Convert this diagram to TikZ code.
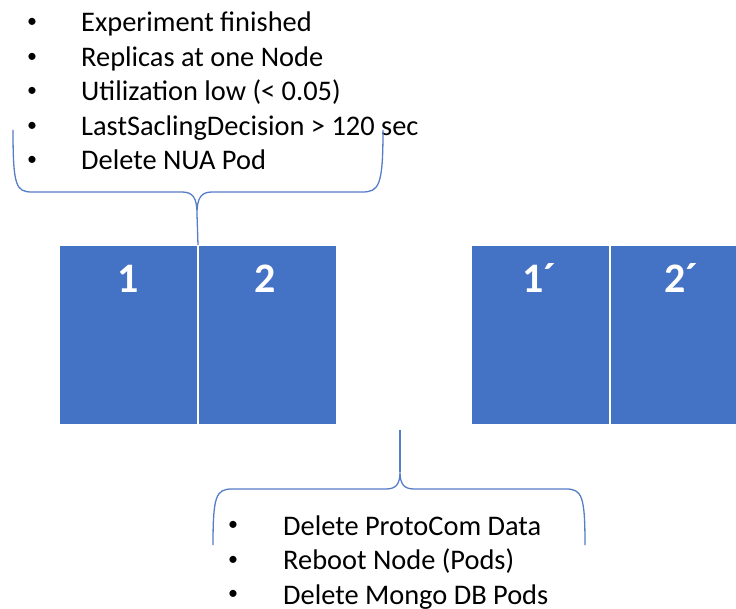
\documentclass[tikz,border=0pt]{standalone}
\usepackage{fontspec}
\setmainfont{Carlito}
\definecolor{boxblue}{RGB}{68,114,196}
\definecolor{braceblue}{RGB}{86,125,200}
\tikzset{
  nodebox/.style={rectangle, fill=boxblue, draw=white, line width=1pt,
    minimum width=138pt, minimum height=179pt, inner sep=0pt, anchor=north west},
  boxlabel/.style={text=white, font=\fontsize{42}{42}\selectfont\bfseries, anchor=base, inner sep=0pt},
  item/.style={font=\fontsize{28.4}{32}\selectfont, anchor=base west, inner sep=0pt},
  dot/.style={font=\fontsize{20}{24}\selectfont, anchor=center, inner sep=0pt},
  brace/.style={draw=braceblue, line width=1.3pt, line join=round}
}
\begin{document}
\begin{tikzpicture}[x=1pt,y=-1pt]
\useasboundingbox (0,0) rectangle (736,609);
\clip (0,0) rectangle (736,609);

% replica boxes
\node[nodebox] (b1) at (59,245) {};
\node[nodebox] (b2) at (198,245) {};
\node[nodebox] (c1) at (471,245) {};
\node[nodebox] (c2) at (610,245) {};
\node[boxlabel] (l1) at (128,293) {1};
\node[boxlabel] (l2) at (265,293) {2};
\node[boxlabel] (m1) at (539,293) {1´};
\node[boxlabel] (m2) at (681,293) {2´};

% upper list
\foreach \t [count=\i] in {Experiment finished, Replicas at one Node,
    Utilization low (< 0.05), LastSaclingDecision > 120 sec, Delete NUA Pod}{
  \node[dot] (ud\i) at (32,{23+34.5*(\i-1)}) {•};
  \node[item] (ut\i) at (81,{32+34.5*(\i-1)}) {\t};
}

% lower list
\foreach \t [count=\i] in {Delete ProtoCom Data, Reboot Node (Pods), Delete Mongo DB Pods}{
  \node[dot] (ld\i) at (233,{526+34.5*(\i-1)}) {•};
  \node[item] (lt\i) at (283,{535+34.5*(\i-1)}) {\t};
}

% brace end points
\coordinate (ta) at (13,130);
\coordinate (tb) at (383,130);
\coordinate (tt) at (197,214);
\coordinate (ba) at (213,545);
\coordinate (bb) at (585,545);
\coordinate (bt) at (400,472);
\coordinate (bp) at (400,430);

% upper brace, its tip running down to the left box pair
\draw[brace] (ta) .. controls (13,186) and (16,192) .. (32,192) -- (182,192)
  .. controls (193,192) and (197,198) .. (tt)
  .. controls (197,198) and (201,192) .. (212,192) -- (362,192)
  .. controls (379,192) and (383,186) .. (tb);
\draw[brace] (tt) -- (b1.north east);

% lower brace
\draw[brace] (ba) .. controls (213,496) and (216,489) .. (232,489) -- (386,489)
  .. controls (396,489) and (400,484) .. (bt)
  .. controls (400,484) and (404,489) .. (414,489) -- (566,489)
  .. controls (582,489) and (585,496) .. (bb);
\draw[brace] (bt) -- (bp);
\end{tikzpicture}
\end{document}
